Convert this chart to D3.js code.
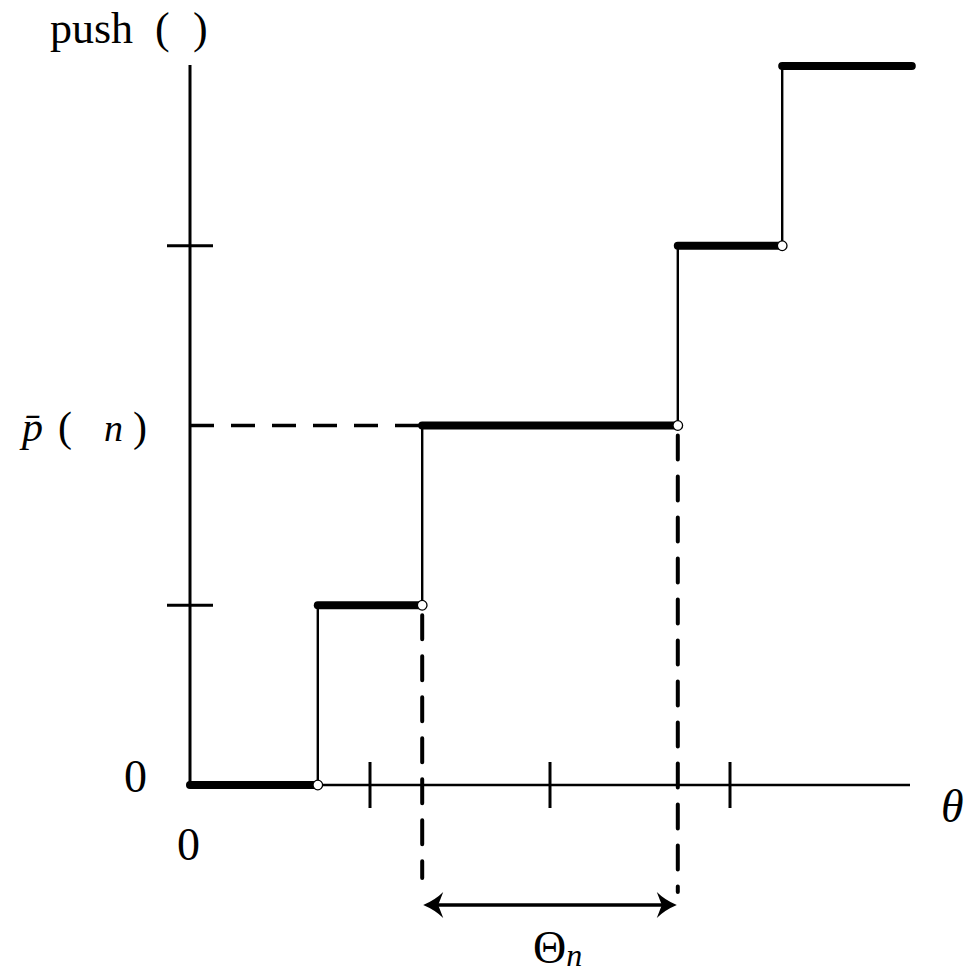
<!DOCTYPE html>
<html>
<head>
<meta charset="utf-8">
<script src="https://cdn.jsdelivr.net/npm/d3@7"></script>
<style>
  html, body { margin: 0; padding: 0; background: #fff; }
  svg { display: block; }
  text { font-family: "Liberation Serif", "Times New Roman", serif; fill: #000; }
</style>
</head>
<body>
<div id="chart"></div>
<script>
// step function values (theta units, level units)
const breaks = [0.71, 1.29, 2.71, 3.29];
const levels = [0, 1, 2, 3, 4];
const xTicks = [1, 2, 3];
const yTicks = [1, 3];
const pbarLevel = 2;
const thetaSpan = [1.29, 2.71];

const W = 970, H = 974;

const x = d3.scaleLinear().domain([0, 4]).range([190, 910]);
const y = d3.scaleLinear().domain([0, 4]).range([785, 66]);

const svg = d3.select('#chart').append('svg')
  .attr('width', W)
  .attr('height', H);

// build step segments
const edges = [0, ...breaks, 4.01];
const steps = levels.map((lv, i) => ({ x0: edges[i], x1: edges[i + 1], level: lv }));

// axes
svg.append('line')
  .attr('x1', x(0)).attr('x2', x(4))
  .attr('y1', y(0)).attr('y2', y(0))
  .attr('stroke', '#000').attr('stroke-width', 2.5);

svg.append('line')
  .attr('x1', x(0)).attr('x2', x(0))
  .attr('y1', y(0)).attr('y2', y(4) - 1)
  .attr('stroke', '#000').attr('stroke-width', 3);

svg.selectAll('line.xtick').data(xTicks).enter().append('line')
  .attr('class', 'xtick')
  .attr('x1', d => x(d)).attr('x2', d => x(d))
  .attr('y1', y(0) - 23).attr('y2', y(0) + 23)
  .attr('stroke', '#000').attr('stroke-width', 3);

svg.selectAll('line.ytick').data(yTicks).enter().append('line')
  .attr('class', 'ytick')
  .attr('x1', x(0) - 23).attr('x2', x(0) + 23)
  .attr('y1', d => y(d)).attr('y2', d => y(d))
  .attr('stroke', '#000').attr('stroke-width', 3);

// dashed guides
const dash = '24,17';
svg.append('line')
  .attr('x1', x(0)).attr('x2', x(thetaSpan[0]))
  .attr('y1', y(pbarLevel)).attr('y2', y(pbarLevel))
  .attr('stroke', '#000').attr('stroke-width', 3.5)
  .attr('stroke-dasharray', dash);

svg.append('line')
  .attr('x1', x(thetaSpan[0])).attr('x2', x(thetaSpan[0]))
  .attr('y1', y(1) + 10).attr('y2', 878)
  .attr('stroke', '#000').attr('stroke-width', 4)
  .attr('stroke-dasharray', dash)
  .attr('stroke-linecap', 'round');

svg.append('line')
  .attr('x1', x(thetaSpan[1])).attr('x2', x(thetaSpan[1]))
  .attr('y1', y(pbarLevel) + 10).attr('y2', 892)
  .attr('stroke', '#000').attr('stroke-width', 4)
  .attr('stroke-dasharray', dash)
  .attr('stroke-linecap', 'round');

// vertical risers
svg.selectAll('line.riser').data(breaks).enter().append('line')
  .attr('class', 'riser')
  .attr('x1', d => x(d)).attr('x2', d => x(d))
  .attr('y1', (d, i) => y(levels[i])).attr('y2', (d, i) => y(levels[i + 1]))
  .attr('stroke', '#000').attr('stroke-width', 2.4);

// thick step segments
svg.selectAll('line.step').data(steps).enter().append('line')
  .attr('class', 'step')
  .attr('x1', d => x(d.x0)).attr('x2', d => x(d.x1))
  .attr('y1', d => y(d.level)).attr('y2', d => y(d.level))
  .attr('stroke', '#000').attr('stroke-width', 8)
  .attr('stroke-linecap', 'round');

// open endpoints
svg.selectAll('circle.open').data(breaks).enter().append('circle')
  .attr('class', 'open')
  .attr('cx', d => x(d))
  .attr('cy', (d, i) => y(levels[i]))
  .attr('r', 4.8)
  .attr('fill', '#fff')
  .attr('stroke', '#000').attr('stroke-width', 1.3);

// double-headed arrow
const ay = 905;
const ax0 = x(thetaSpan[0]) + 1, ax1 = x(thetaSpan[1]) - 1;
svg.append('line')
  .attr('x1', ax0 + 10).attr('x2', ax1 - 10)
  .attr('y1', ay).attr('y2', ay)
  .attr('stroke', '#000').attr('stroke-width', 3.5);

const head = (tip, dir) => {
  const p = d3.path();
  p.moveTo(tip, ay);
  p.quadraticCurveTo(tip + dir * 12, ay - 5, tip + dir * 20, ay - 13);
  p.lineTo(tip + dir * 15, ay);
  p.lineTo(tip + dir * 20, ay + 13);
  p.quadraticCurveTo(tip + dir * 12, ay + 5, tip, ay);
  p.closePath();
  return p.toString();
};
svg.append('path').attr('d', head(ax0, 1)).attr('fill', '#000');
svg.append('path').attr('d', head(ax1, -1)).attr('fill', '#000');

// labels
const yTitle = svg.append('text').attr('x', 50).attr('y', 43).style('font-size', '44px');
yTitle.append('tspan').text('push');
yTitle.append('tspan').attr('x', 155).text('(');
yTitle.append('tspan').attr('x', 193).text(')');

const pl = svg.append('text').attr('x', 22).attr('y', 441).style('font-size', '42px');
pl.append('tspan').style('font-style', 'italic').text('p\u0304');
pl.append('tspan').attr('x', 58).text('(');
pl.append('tspan').attr('x', 104).style('font-style', 'italic').style('font-size', '38px').text('n');
pl.append('tspan').attr('x', 133).text(')');

svg.append('text').attr('x', 124).attr('y', 792).style('font-size', '46px').text('0');
svg.append('text').attr('x', 177).attr('y', 860).style('font-size', '46px').text('0');

svg.append('text').attr('x', 941).attr('y', 822)
  .style('font-size', '46px').style('font-style', 'italic').text('\u03b8');

const tl = svg.append('text').attr('x', 533).attr('y', 963).style('font-size', '46px');
tl.append('tspan').text('\u0398');
tl.append('tspan').attr('dy', 3).style('font-style', 'italic').style('font-size', '32px').text('n');
</script>
</body>
</html>
